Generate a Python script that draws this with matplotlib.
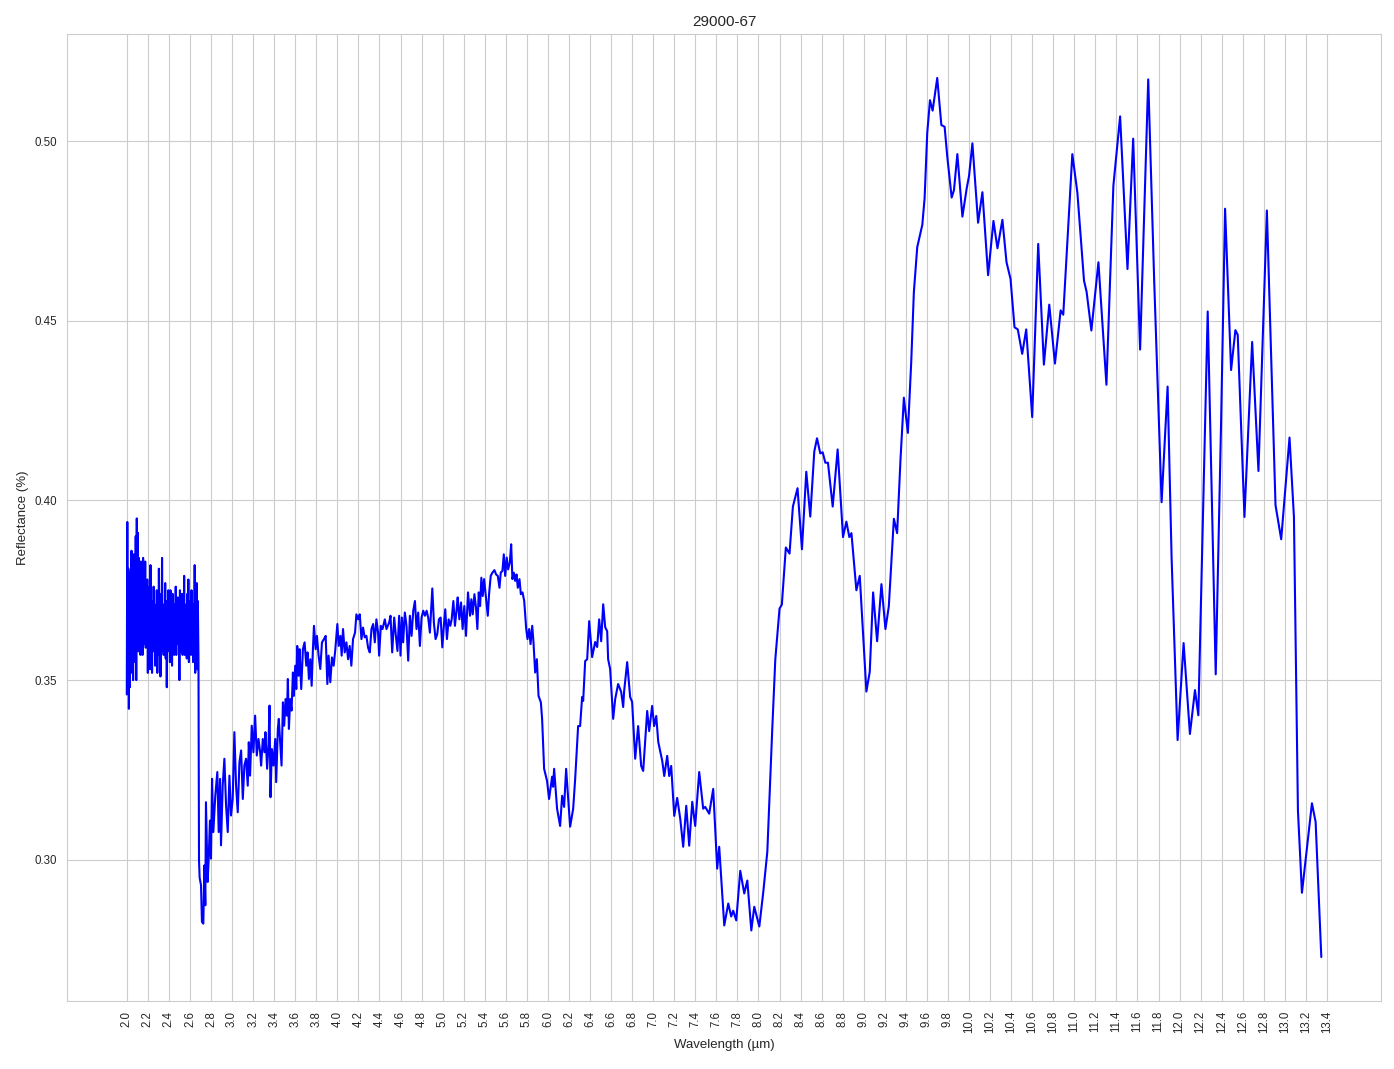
import numpy as np
import matplotlib
matplotlib.use("Agg")
import matplotlib.pyplot as plt
import seaborn as sns

# dense, very noisy start of the spectrum (uniform wavelength grid 2.000 - 2.675 um)
dense_refl = [
    0.346, 0.394, 0.352, 0.381, 0.342, 0.375, 0.348, 0.380, 0.352, 0.386,
    0.356, 0.378, 0.350, 0.385, 0.358, 0.372, 0.355, 0.390, 0.350, 0.395,
    0.362, 0.391, 0.358, 0.384, 0.366, 0.378, 0.357, 0.383, 0.362, 0.372,
    0.357, 0.384, 0.360, 0.376, 0.365, 0.383, 0.359, 0.374, 0.362, 0.378,
    0.352, 0.370, 0.358, 0.376, 0.353, 0.382, 0.360, 0.372, 0.352, 0.369,
    0.358, 0.376, 0.362, 0.371, 0.354, 0.368, 0.360, 0.375, 0.352, 0.366,
    0.357, 0.381, 0.361, 0.370, 0.351, 0.374, 0.358, 0.384, 0.362, 0.371,
    0.357, 0.369, 0.360, 0.377, 0.356, 0.372, 0.348, 0.366, 0.358, 0.375,
    0.361, 0.369, 0.355, 0.375, 0.360, 0.366, 0.354, 0.374, 0.362, 0.368,
    0.357, 0.371, 0.363, 0.376, 0.357, 0.369, 0.362, 0.373, 0.360, 0.366,
    0.350, 0.375, 0.358, 0.368, 0.361, 0.374, 0.357, 0.370, 0.362, 0.379,
    0.357, 0.371, 0.363, 0.368, 0.356, 0.374, 0.360, 0.378, 0.355, 0.369,
    0.361, 0.372, 0.357, 0.375, 0.362, 0.368, 0.355, 0.371, 0.360, 0.382,
    0.352, 0.374, 0.360, 0.377, 0.353, 0.372,
]
dense_wl = np.linspace(2.0, 2.675, len(dense_refl))

# noisy part after the drop, 2.68 - 5.93 um
noisy_wl = [
    2.681, 2.686, 2.692, 2.705, 2.714, 2.727, 2.737, 2.746, 2.752, 2.768,
    2.778, 2.790, 2.800, 2.810, 2.822, 2.841, 2.860, 2.873, 2.886, 2.895,
    2.911, 2.927, 2.943, 2.959, 2.975, 2.990, 3.006, 3.022, 3.038, 3.054,
    3.070, 3.086, 3.102, 3.117, 3.133, 3.149, 3.159, 3.171, 3.187, 3.203,
    3.219, 3.235, 3.251, 3.267, 3.276, 3.292, 3.308, 3.317, 3.333, 3.346,
    3.356, 3.365, 3.378, 3.394, 3.410, 3.419, 3.435, 3.444, 3.457, 3.470,
    3.483, 3.495, 3.508, 3.521, 3.530, 3.540, 3.552, 3.565, 3.578, 3.587,
    3.600, 3.610, 3.619, 3.632, 3.641, 3.657, 3.673, 3.689, 3.705, 3.717,
    3.730, 3.743, 3.756, 3.768, 3.778, 3.794, 3.806, 3.822, 3.838, 3.854,
    3.873, 3.889, 3.905, 3.917, 3.933, 3.949, 3.965, 3.981, 4.000, 4.013,
    4.029, 4.041, 4.054, 4.070, 4.086, 4.102, 4.117, 4.133, 4.149, 4.168,
    4.181, 4.197, 4.213, 4.229, 4.244, 4.260, 4.276, 4.292, 4.308, 4.324,
    4.340, 4.356, 4.371, 4.387, 4.397, 4.413, 4.429, 4.451, 4.467, 4.492,
    4.505, 4.521, 4.540, 4.556, 4.571, 4.587, 4.600, 4.613, 4.625, 4.641,
    4.657, 4.673, 4.689, 4.705, 4.721, 4.737, 4.752, 4.768, 4.784, 4.800,
    4.816, 4.832, 4.848, 4.863, 4.879, 4.902, 4.917, 4.933, 4.949, 4.965,
    4.981, 4.997, 5.013, 5.025, 5.041, 5.057, 5.073, 5.086, 5.102, 5.117,
    5.133, 5.143, 5.159, 5.175, 5.190, 5.206, 5.222, 5.241, 5.260, 5.273,
    5.286, 5.302, 5.317, 5.330, 5.343, 5.356, 5.368, 5.381, 5.394, 5.410,
    5.429, 5.441, 5.457, 5.473, 5.492, 5.508, 5.524, 5.540, 5.552, 5.568,
    5.581, 5.594, 5.609, 5.622, 5.638, 5.651, 5.663, 5.676, 5.689, 5.702,
    5.714, 5.730, 5.743, 5.759, 5.775, 5.794, 5.806, 5.822, 5.835, 5.851,
    5.863, 5.879, 5.895, 5.911, 5.933,
]
noisy_refl = [
    0.356, 0.300, 0.295, 0.2929, 0.2827, 0.2822, 0.2984, 0.2873, 0.3160, 0.2938,
    0.3003, 0.3109, 0.3003, 0.3225, 0.3077, 0.3179, 0.3244, 0.3077, 0.3225, 0.3040,
    0.3206, 0.3281, 0.3151, 0.3077, 0.3234, 0.3123, 0.3169, 0.3355, 0.3206, 0.3132,
    0.3271, 0.3304, 0.3169, 0.3262, 0.3281, 0.3206, 0.3327, 0.3234, 0.3373, 0.3299,
    0.3401, 0.3290, 0.3336, 0.3299, 0.3262, 0.3336, 0.3299, 0.3355, 0.3253, 0.3318,
    0.3429, 0.3174, 0.3308, 0.3262, 0.3336, 0.3216, 0.3364, 0.3392, 0.3327, 0.3262,
    0.3438, 0.3373, 0.3447, 0.3401, 0.3503, 0.3364, 0.3447, 0.3415, 0.3521, 0.3456,
    0.3540, 0.3475, 0.3595, 0.3512, 0.3586, 0.3475, 0.3586, 0.3605, 0.3540, 0.3577,
    0.3503, 0.3558, 0.3484, 0.3586, 0.3651, 0.3586, 0.3623, 0.3568, 0.3531, 0.3605,
    0.3614, 0.3623, 0.3489, 0.3568, 0.3494, 0.3563, 0.3540, 0.3586, 0.3656, 0.3595,
    0.3623, 0.3568, 0.3642, 0.3577, 0.3605, 0.3558, 0.3595, 0.3540, 0.3614, 0.3632,
    0.3683, 0.3669, 0.3683, 0.3614, 0.3646, 0.3619, 0.3623, 0.3590, 0.3577, 0.3642,
    0.3656, 0.3605, 0.3669, 0.3632, 0.3568, 0.3651, 0.3642, 0.3669, 0.3642, 0.3660,
    0.3679, 0.3577, 0.3674, 0.3623, 0.3581, 0.3679, 0.3568, 0.3674, 0.3605, 0.3688,
    0.3651, 0.3554, 0.3679, 0.3623, 0.3693, 0.3720, 0.3642, 0.3688, 0.3595, 0.3674,
    0.3693, 0.3679, 0.3693, 0.3674, 0.3632, 0.3755, 0.3660, 0.3614, 0.3628, 0.3669,
    0.3674, 0.3591, 0.3656, 0.3697, 0.3614, 0.3669, 0.3651, 0.3669, 0.3720, 0.3651,
    0.3697, 0.3730, 0.3669, 0.3716, 0.3642, 0.3706, 0.3623, 0.3744, 0.3679, 0.3725,
    0.3683, 0.3739, 0.3702, 0.3642, 0.3744, 0.3706, 0.3785, 0.3734, 0.3781, 0.3734,
    0.3679, 0.3739, 0.3790, 0.3799, 0.3806, 0.3794, 0.3790, 0.3757, 0.3799, 0.3804,
    0.3850, 0.3790, 0.3841, 0.3808, 0.3827, 0.3878, 0.3781, 0.3799, 0.3776, 0.3794,
    0.3757, 0.3781, 0.3739, 0.3744, 0.3720, 0.3642, 0.3614, 0.3642, 0.3600, 0.3651,
    0.3605, 0.3521, 0.3558, 0.3456, 0.3438,
]

# smoother long-wave part, 5.94 - 13.35 um
smooth_wl = [
    5.945, 5.964, 5.992, 6.011, 6.040, 6.049, 6.059, 6.087, 6.116, 6.135,
    6.154, 6.173, 6.211, 6.240, 6.259, 6.287, 6.306, 6.325, 6.335, 6.354,
    6.373, 6.392, 6.420, 6.449, 6.468, 6.487, 6.506, 6.525, 6.544, 6.563,
    6.572, 6.591, 6.620, 6.639, 6.667, 6.696, 6.715, 6.724, 6.753, 6.781,
    6.800, 6.829, 6.857, 6.886, 6.905, 6.943, 6.962, 6.990, 7.009, 7.029,
    7.048, 7.086, 7.105, 7.133, 7.152, 7.171, 7.200, 7.228, 7.257, 7.285,
    7.314, 7.342, 7.371, 7.399, 7.437, 7.475, 7.494, 7.532, 7.570, 7.608,
    7.627, 7.675, 7.713, 7.741, 7.760, 7.789, 7.827, 7.865, 7.894, 7.932,
    7.960, 8.008, 8.046, 8.084, 8.131, 8.160, 8.200, 8.222, 8.260, 8.295,
    8.327, 8.371, 8.413, 8.454, 8.492, 8.530, 8.556, 8.587, 8.610, 8.635,
    8.660, 8.705, 8.752, 8.803, 8.835, 8.863, 8.883, 8.930, 8.962, 9.025,
    9.057, 9.089, 9.127, 9.168, 9.206, 9.238, 9.286, 9.317, 9.349, 9.381,
    9.419, 9.451, 9.476, 9.508, 9.556, 9.578, 9.603, 9.629, 9.654, 9.698,
    9.737, 9.768, 9.794, 9.835, 9.857, 9.889, 9.937, 9.978, 10.000, 10.032,
    10.086, 10.127, 10.181, 10.232, 10.270, 10.317, 10.356, 10.394, 10.432, 10.463,
    10.505, 10.543, 10.600, 10.657, 10.711, 10.762, 10.816, 10.870, 10.895, 10.981,
    11.029, 11.092, 11.117, 11.162, 11.229, 11.305, 11.371, 11.435, 11.505, 11.559,
    11.625, 11.702, 11.759, 11.829, 11.886, 11.924, 11.981, 12.038, 12.098, 12.146,
    12.178, 12.219, 12.267, 12.343, 12.394, 12.432, 12.489, 12.530, 12.552, 12.616,
    12.689, 12.749, 12.829, 12.911, 12.965, 13.044, 13.086, 13.124, 13.162, 13.257,
    13.292, 13.346,
]
smooth_refl = [
    0.3392, 0.3253, 0.3219, 0.3169, 0.3231, 0.3203, 0.3253, 0.3142, 0.3094, 0.3178,
    0.3147, 0.3253, 0.3092, 0.3142, 0.3225, 0.3372, 0.3372, 0.3453, 0.3442, 0.3553,
    0.3558, 0.3664, 0.3564, 0.3606, 0.3592, 0.3669, 0.3608, 0.3711, 0.3647, 0.3636,
    0.3558, 0.3531, 0.3392, 0.3447, 0.3489, 0.3467, 0.3425, 0.3469, 0.3550, 0.3453,
    0.3439, 0.3281, 0.3372, 0.3261, 0.3247, 0.3414, 0.3358, 0.3428, 0.3372, 0.3400,
    0.3328, 0.3275, 0.3233, 0.3289, 0.3233, 0.3261, 0.3122, 0.3172, 0.3114, 0.3036,
    0.3150, 0.3039, 0.3161, 0.3094, 0.3244, 0.3142, 0.3147, 0.3128, 0.3197, 0.2975,
    0.3036, 0.2817, 0.2878, 0.2842, 0.2858, 0.2831, 0.2969, 0.2906, 0.2942, 0.2803,
    0.2869, 0.2814, 0.2911, 0.3022, 0.3364, 0.3558, 0.3699, 0.3710, 0.3869, 0.3852,
    0.3983, 0.4034, 0.3864, 0.4080, 0.3955, 0.4136, 0.4173, 0.4131, 0.4134, 0.4105,
    0.4105, 0.3983, 0.4142, 0.3898, 0.3941, 0.3898, 0.3909, 0.3750, 0.3790, 0.3468,
    0.3523, 0.3744, 0.3608, 0.3767, 0.3642, 0.3705, 0.3949, 0.3909, 0.4114, 0.4286,
    0.4188, 0.4386, 0.4580, 0.4705, 0.4767, 0.4841, 0.5023, 0.5114, 0.5085, 0.5176,
    0.5045, 0.5040, 0.4955, 0.4843, 0.4864, 0.4964, 0.4790, 0.4869, 0.4903, 0.4994,
    0.4773, 0.4858, 0.4627, 0.4778, 0.4702, 0.4781, 0.4663, 0.4617, 0.4482, 0.4476,
    0.4408, 0.4476, 0.4232, 0.4714, 0.4378, 0.4545, 0.4381, 0.4529, 0.4517, 0.4964,
    0.4857, 0.4612, 0.4580, 0.4473, 0.4663, 0.4322, 0.4876, 0.5069, 0.4644, 0.5007,
    0.4420, 0.5172, 0.4608, 0.3995, 0.4317, 0.3840, 0.3333, 0.3603, 0.3350, 0.3472,
    0.3402, 0.3922, 0.4526, 0.3516, 0.4216, 0.4812, 0.4363, 0.4474, 0.4461, 0.3954,
    0.4441, 0.4082, 0.4807, 0.3987, 0.3892, 0.4175, 0.3954, 0.3137, 0.2908, 0.3157,
    0.3105, 0.2729,
]

wavelength = np.concatenate([dense_wl, noisy_wl, smooth_wl])
reflectance = np.concatenate([dense_refl, noisy_refl, smooth_refl])

sns.set_style("whitegrid")
plt.rcParams['font.family'] = ['Liberation Sans', 'DejaVu Sans']

fig, ax = plt.subplots(figsize=(13.94, 10.69), dpi=100)
fig.subplots_adjust(left=0.0481, right=0.9907, top=0.9682, bottom=0.0636)

ax.plot(wavelength, reflectance, color='blue', linewidth=1.5)

xt = np.arange(2.0, 13.5, 0.2)
ax.set_xticks(xt)
ax.set_xticklabels([f"{v:.1f}" for v in xt], rotation=90, fontsize=8.3)
ax.tick_params(axis='y', labelsize=8.3)
ax.set_xlabel("Wavelength (µm)", fontsize=9.5)
ax.set_ylabel("Reflectance (%)", fontsize=9.5)
ax.set_title("29000-67", fontsize=11)

fig.savefig("out.png", dpi=100)
